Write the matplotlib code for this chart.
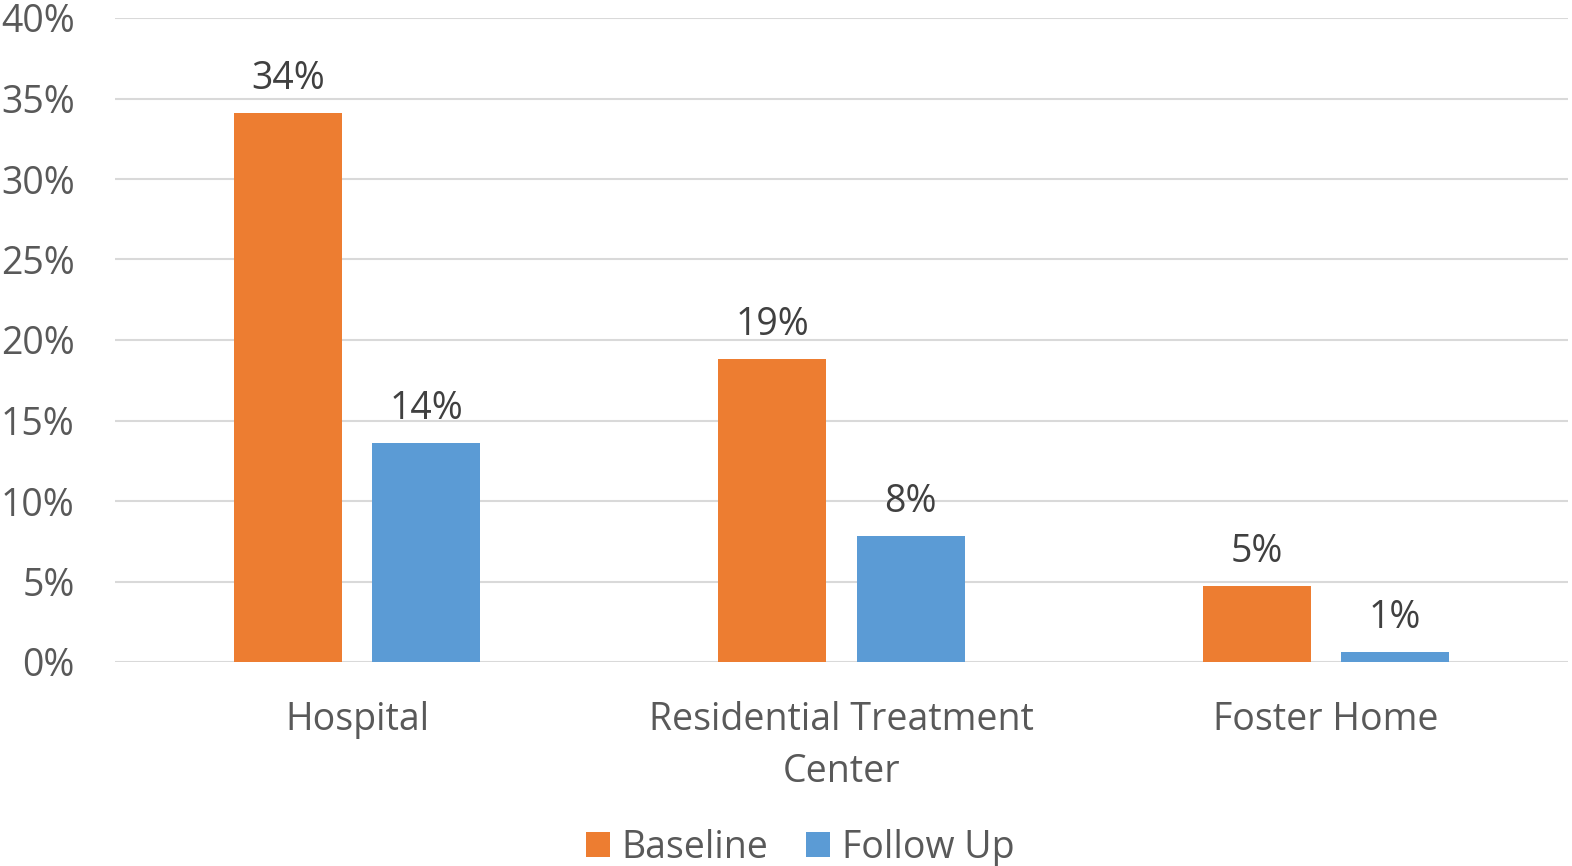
import matplotlib.pyplot as plt
import numpy as np

categories = ["Hospital", "Residential Treatment\nCenter", "Foster Home"]
baseline = [34.1, 18.8, 4.7]
follow_up = [13.6, 7.8, 0.6]
series_names = ["Baseline", "Follow Up"]

plt.rcParams['font.family'] = ['Open Sans', 'DejaVu Sans']

fig = plt.figure(figsize=(15.72, 8.66), dpi=100)
ax = fig.add_axes([115 / 1572, 1 - 662 / 866, 1453 / 1572, 644 / 866])

x = np.arange(len(categories))
w = 0.223
off = 0.1425
b1 = ax.bar(x - off, baseline, w, color="#ED7D31", label=series_names[0], zorder=3)
b2 = ax.bar(x + off, follow_up, w, color="#5B9BD5", label=series_names[1], zorder=3)

for bars, vals in ((b1, baseline), (b2, follow_up)):
    for rect, v in zip(bars, vals):
        ax.annotate(f"{round(v):d}%", (rect.get_x() + rect.get_width() / 2, v),
                    xytext=(0, 11), textcoords="offset points",
                    ha="center", va="bottom", fontsize=27, color="#404040")

ax.set_xlim(-0.5, 2.5)
ax.set_ylim(0, 40)
ax.set_yticks(range(0, 41, 5))
ax.set_yticklabels([f"{t}%" for t in range(0, 41, 5)])
ax.set_xticks(x)
ax.set_xticklabels(categories, linespacing=1.5)
ax.tick_params(axis="both", length=0, labelsize=27, labelcolor="#595959")
ax.tick_params(axis="y", pad=29)
ax.tick_params(axis="x", pad=28)

ax.grid(axis="y", color="#D9D9D9", linewidth=1.5, zorder=0)
for s in ax.spines.values():
    s.set_visible(False)

fig.legend(handles=[b1, b2], loc="center", bbox_to_anchor=(800 / 1572, 1 - 848 / 866),
           ncol=2, frameon=False, fontsize=27, labelcolor="#595959",
           handlelength=0.65, handleheight=0.65, handletextpad=0.3, columnspacing=1.0)

fig.savefig("out.png", dpi=100)
